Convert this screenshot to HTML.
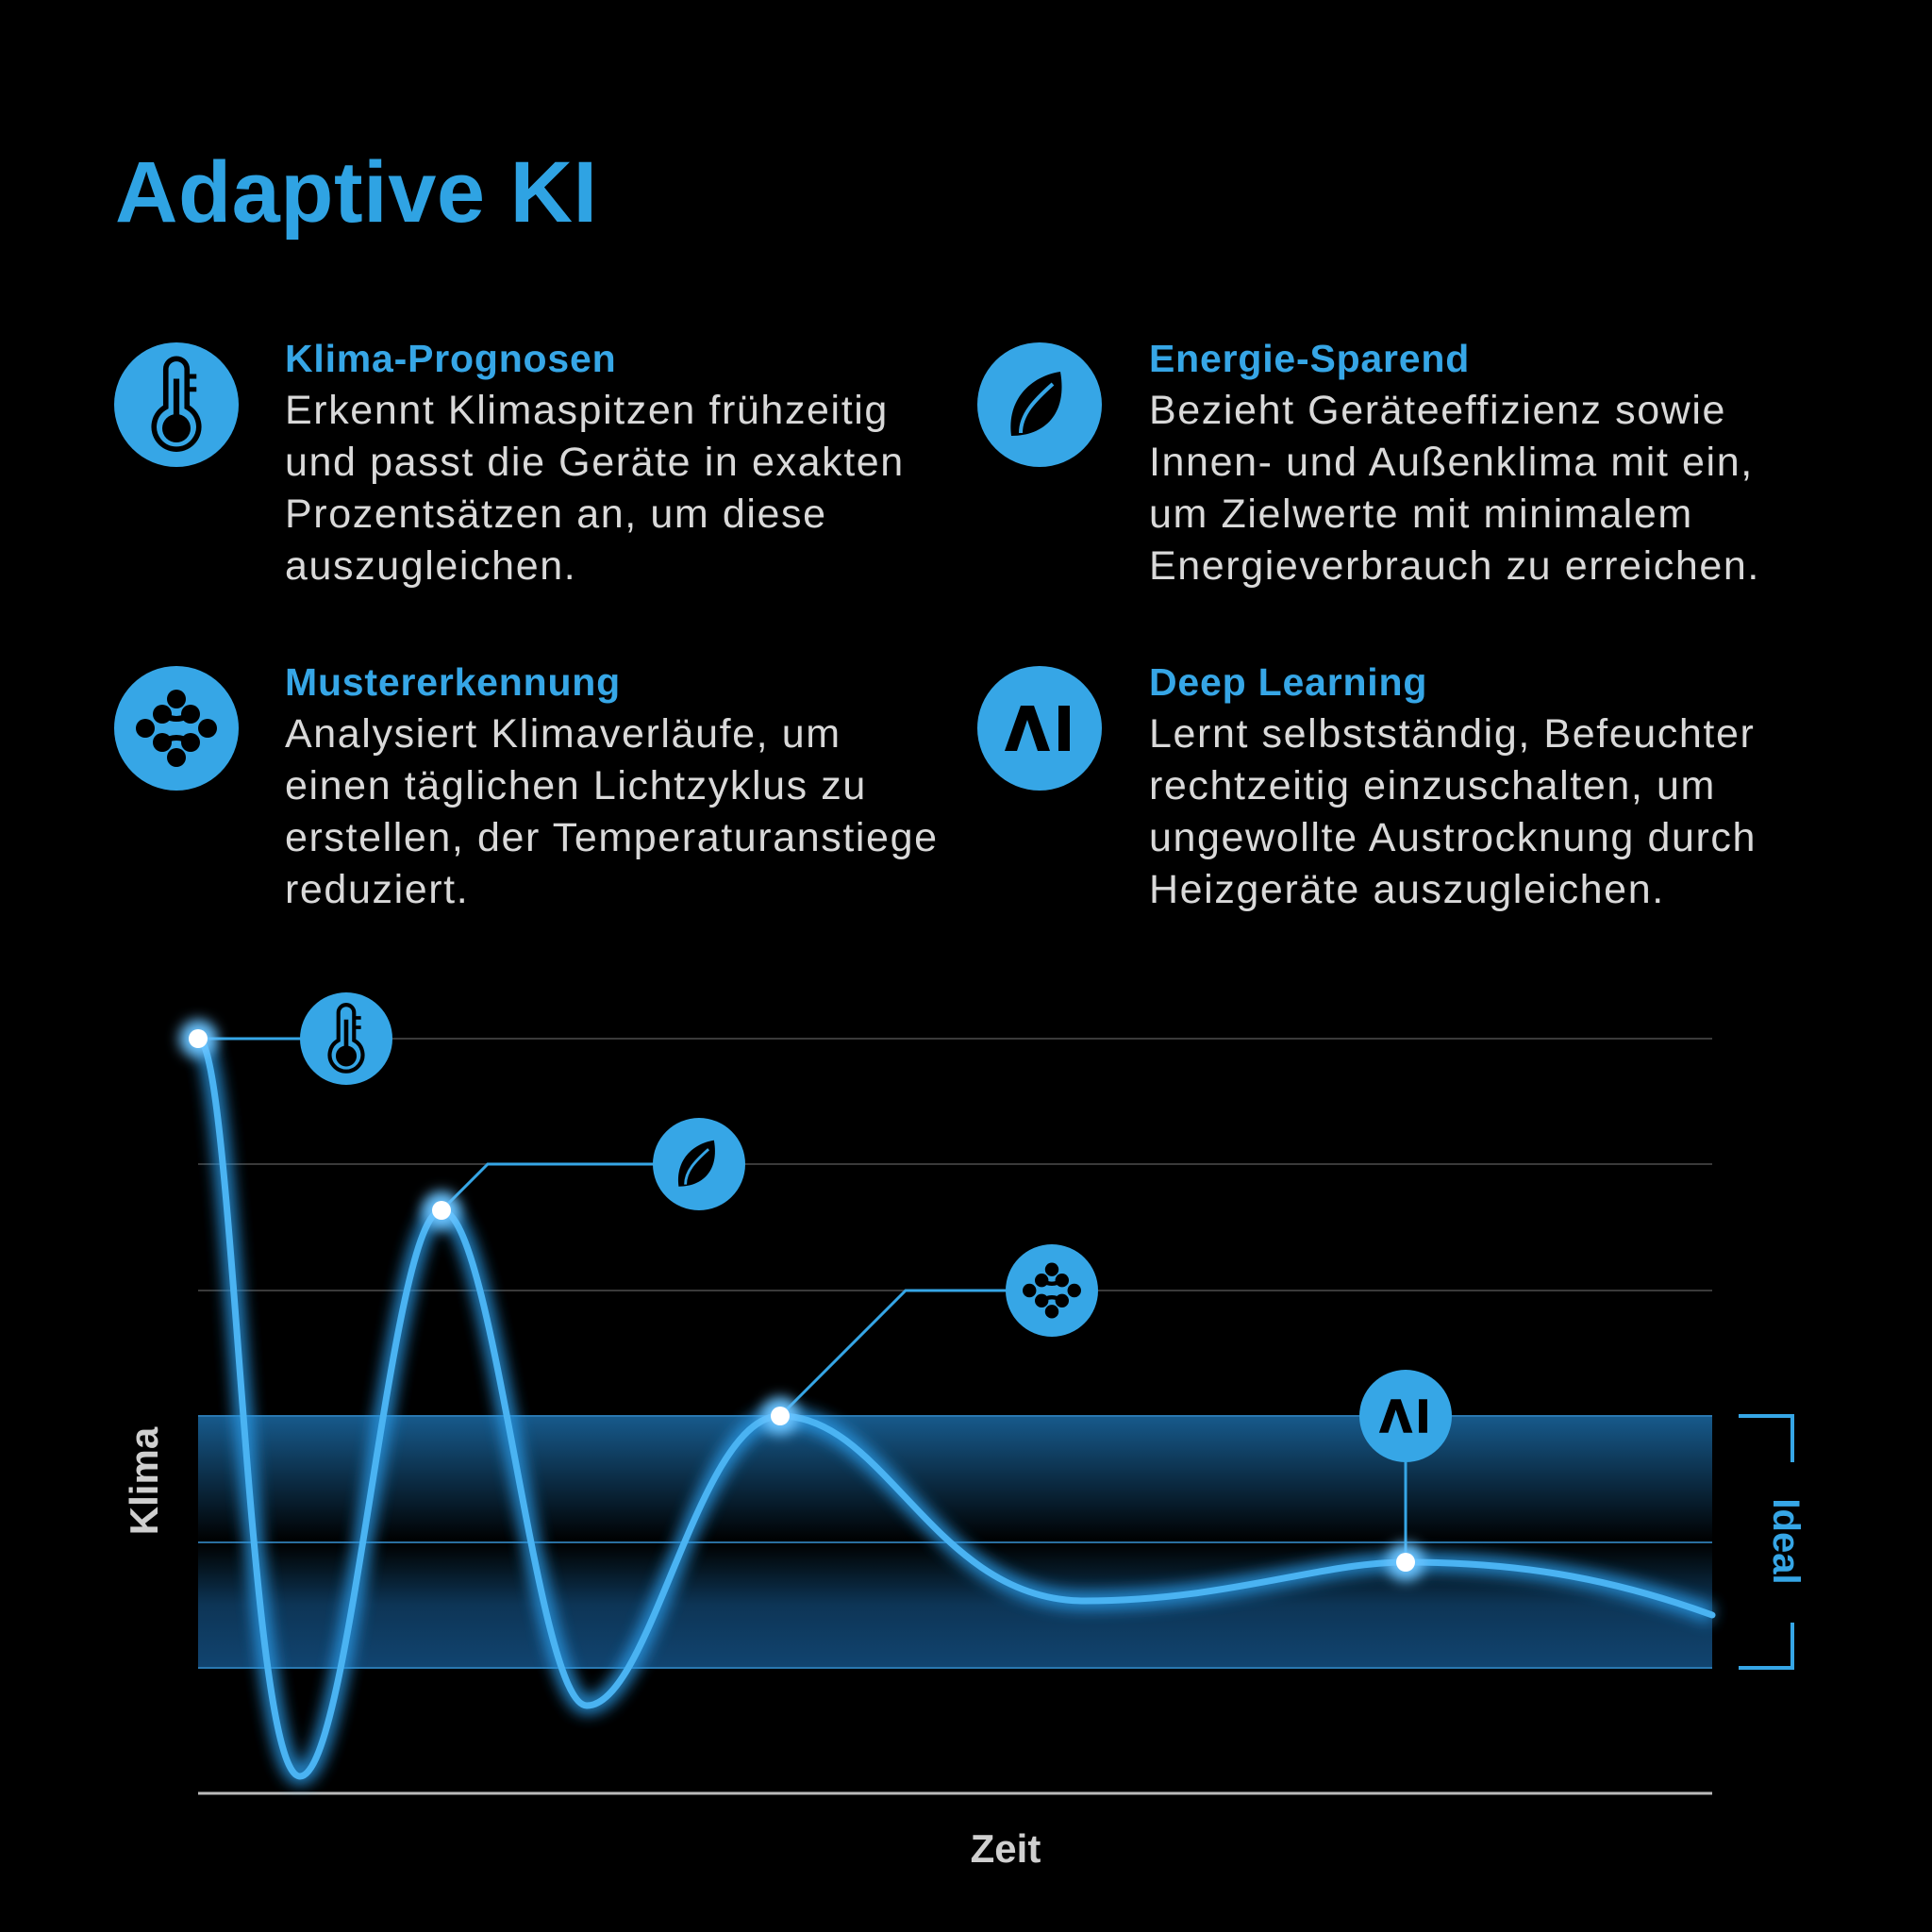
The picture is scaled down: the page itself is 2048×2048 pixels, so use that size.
<!DOCTYPE html>
<html><head><meta charset="utf-8"><style>
html,body{margin:0;padding:0;background:#000;}
body{width:2048px;height:2048px;position:relative;overflow:hidden;font-family:"Liberation Sans",sans-serif;}
.t{position:absolute;color:#2fa3e3;font-weight:bold;}
.h{position:absolute;color:#36a6e6;font-weight:bold;font-size:41px;letter-spacing:0.8px;line-height:55px;}
.b{position:absolute;color:#d9d9d9;font-size:43px;letter-spacing:1.6px;line-height:55px;white-space:nowrap;}
</style></head><body>
<div class="t" style="left:122px;top:152px;font-size:92px;letter-spacing:0.5px;">Adaptive KI</div>

<div class="h" style="left:302px;top:353px;">Klima-Prognosen</div>
<div class="b" style="left:302px;top:408px;">Erkennt Klimaspitzen frühzeitig<br>und passt die Geräte in exakten<br>Prozentsätzen an, um diese<br>auszugleichen.</div>

<div class="h" style="left:1218px;top:353px;">Energie-Sparend</div>
<div class="b" style="left:1218px;top:408px;">Bezieht Geräteeffizienz sowie<br>Innen- und Außenklima mit ein,<br>um Zielwerte mit minimalem<br>Energieverbrauch zu erreichen.</div>

<div class="h" style="left:302px;top:696px;">Mustererkennung</div>
<div class="b" style="left:302px;top:751px;">Analysiert Klimaverläufe, um<br>einen täglichen Lichtzyklus zu<br>erstellen, der Temperaturanstiege<br>reduziert.</div>

<div class="h" style="left:1218px;top:696px;">Deep Learning</div>
<div class="b" style="left:1218px;top:751px;">Lernt selbstständig, Befeuchter<br>rechtzeitig einzuschalten, um<br>ungewollte Austrocknung durch<br>Heizgeräte auszugleichen.</div>

<svg width="2048" height="2048" style="position:absolute;left:0;top:0" xmlns="http://www.w3.org/2000/svg">
<defs>
<linearGradient id="band" x1="0" y1="0" x2="0" y2="1">
<stop offset="0" stop-color="#175a8c"/>
<stop offset="0.5" stop-color="#000"/>
<stop offset="0.6" stop-color="#051520"/>
<stop offset="0.75" stop-color="#0d3556"/>
<stop offset="1" stop-color="#114470"/>
</linearGradient>
<filter id="glow" x="-20%" y="-20%" width="140%" height="140%"><feGaussianBlur stdDeviation="8"/></filter>
<filter id="dg" x="-100%" y="-100%" width="300%" height="300%"><feGaussianBlur stdDeviation="7"/></filter>
<g id="therm">
<path d="M-8,-30 a9,9 0 0 1 18,0 v32 a19,19 0 1 1 -18,0 z" transform="translate(-1,0)" fill="none" stroke="#000" stroke-width="4.5"/>
<circle cx="0" cy="20" r="12" fill="#000"/><rect x="-2.5" y="-22" width="5" height="40" fill="#000"/>
<path d="M9,-24 h8 M9,-13 h8" stroke="#000" stroke-width="4"/>
</g>
<g id="leaf">
<path d="M22,-35 C-10,-30 -35,-5 -30,33 C5,33 30,10 22,-35 Z" fill="#000"/>
<path d="M14,-22 C-5,-5 -20,10 -20,30" stroke="#36a6e6" stroke-width="4" fill="none"/>
</g>
<g id="pat" fill="#000">
<circle cx="0" cy="-31" r="10"/><circle cx="-15" cy="-15" r="10"/><circle cx="15" cy="-15" r="10"/>
<circle cx="-33" cy="0" r="10"/><circle cx="33" cy="0" r="10"/>
<circle cx="-15" cy="15" r="10"/><circle cx="15" cy="15" r="10"/><circle cx="0" cy="31" r="10"/>
<path d="M-15,-15 Q0,-5 15,-15 M-15,15 Q0,5 15,15" stroke="#000" stroke-width="6" fill="none"/>
</g>
<g id="ai" fill="#000">
<polygon points="-38,24 -21,-24 -7,-24 10,24 -3,24 -14,-9 -25,24"/>
<rect x="19" y="-24" width="12" height="48"/>
</g>
</defs>

<circle cx="187" cy="429" r="66" fill="#36a6e6"/><use href="#therm" transform="translate(187,429) scale(1.25)"/>
<circle cx="1102" cy="429" r="66" fill="#36a6e6"/><use href="#leaf" transform="translate(1102,429)"/>
<circle cx="187" cy="772" r="66" fill="#36a6e6"/><use href="#pat" transform="translate(187,772)"/>
<circle cx="1102" cy="772" r="66" fill="#36a6e6"/><use href="#ai" transform="translate(1103,772)"/>

<rect x="210" y="1501" width="1605" height="267" fill="url(#band)"/>
<line x1="210" y1="1501" x2="1815" y2="1501" stroke="#2a78b0" stroke-width="2"/>
<line x1="210" y1="1768" x2="1815" y2="1768" stroke="#2a78b0" stroke-width="2"/>
<g stroke="#3a3a3a" stroke-width="2">
<line x1="210" y1="1101" x2="1815" y2="1101"/>
<line x1="210" y1="1234" x2="1815" y2="1234"/>
<line x1="210" y1="1368" x2="1815" y2="1368"/>
</g>
<line x1="210" y1="1635" x2="1815" y2="1635" stroke="#2a6fa0" stroke-width="2"/>
<line x1="210" y1="1901" x2="1815" y2="1901" stroke="#bbb" stroke-width="3"/>

<g stroke="#36a6e6" stroke-width="3" fill="none">
<path d="M210,1101 H320"/>
<path d="M468,1283 L517,1234 H700"/>
<path d="M827,1501 L960,1368 H1070"/>
<path d="M1490,1501 V1656"/>
</g>

<path d="M210,1101 C248,1100 262,1883 318,1883 C372,1883 414,1283 468,1283 C524,1283 568,1808 622,1808 C690,1808 740,1501 827,1501 C940,1501 990,1697 1150,1697 C1300,1697 1400,1656 1490,1656 C1600,1656 1700,1670 1815,1712" fill="none" stroke="#2b9be8" stroke-width="18" filter="url(#glow)" opacity="0.9"/>
<path d="M210,1101 C248,1100 262,1883 318,1883 C372,1883 414,1283 468,1283 C524,1283 568,1808 622,1808 C690,1808 740,1501 827,1501 C940,1501 990,1697 1150,1697 C1300,1697 1400,1656 1490,1656 C1600,1656 1700,1670 1815,1712" fill="none" stroke="#4ab3f2" stroke-width="7" stroke-linecap="round"/>

<g>
<circle cx="210" cy="1101" r="20" fill="#6cc4ff" filter="url(#dg)"/>
<circle cx="468" cy="1283" r="20" fill="#6cc4ff" filter="url(#dg)"/>
<circle cx="827" cy="1501" r="20" fill="#6cc4ff" filter="url(#dg)"/>
<circle cx="1490" cy="1656" r="20" fill="#6cc4ff" filter="url(#dg)"/>
</g>
<g fill="#fff">
<circle cx="210" cy="1101" r="10"/><circle cx="468" cy="1283" r="10"/>
<circle cx="827" cy="1501" r="10"/><circle cx="1490" cy="1656" r="10"/>
</g>

<circle cx="367" cy="1101" r="49" fill="#36a6e6"/><use href="#therm" transform="translate(367,1101) scale(0.92)"/>
<circle cx="741" cy="1234" r="49" fill="#36a6e6"/><use href="#leaf" transform="translate(741,1234) scale(0.72)"/>
<circle cx="1115" cy="1368" r="49" fill="#36a6e6"/><use href="#pat" transform="translate(1115,1368) scale(0.72)"/>
<circle cx="1490" cy="1501" r="49" fill="#36a6e6"/><use href="#ai" transform="translate(1490,1501) scale(0.74)"/>

<g stroke="#36a6e6" stroke-width="4" fill="none">
<path d="M1843,1501 H1900 V1550"/>
<path d="M1900,1720 V1768 H1843"/>
</g>
<text x="0" y="0" transform="translate(1880,1634) rotate(90)" text-anchor="middle" font-family="Liberation Sans, sans-serif" font-size="40" font-weight="bold" fill="#36a6e6">Ideal</text>
<text x="0" y="0" transform="translate(167,1570) rotate(-90)" text-anchor="middle" font-family="Liberation Sans, sans-serif" font-size="42" font-weight="bold" fill="#cfcfcf">Klima</text>
<text x="1066" y="1974" text-anchor="middle" font-family="Liberation Sans, sans-serif" font-size="42" font-weight="bold" fill="#cfcfcf">Zeit</text>
</svg>
</body></html>
